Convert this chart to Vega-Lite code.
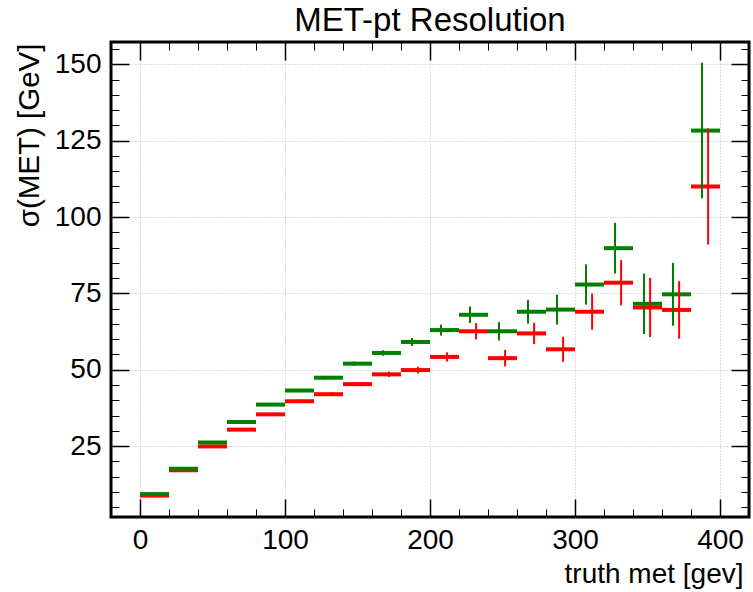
{
  "$schema": "https://vega.github.io/schema/vega-lite/v6.json",
  "width": 638,
  "height": 475,
  "autosize": "none",
  "padding": {"left": 111, "top": 42, "right": 4, "bottom": 75},
  "background": "white",
  "title": {"text": "MET-pt Resolution", "fontSize": 33, "font": "Liberation Sans", "fontWeight": "normal", "anchor": "middle", "frame": "group", "baseline": "alphabetic", "offset": 10, "dy": 33, "color": "black"},
  "config": {
    "view": {"stroke": "black", "strokeWidth": 3},
    "axis": {"domain": false, "labelFont": "Liberation Sans", "titleFont": "Liberation Sans", "labelColor": "black", "titleColor": "black", "tickColor": "black", "titleFontWeight": "normal"}
  },
  "data": {"values": [
    {"s": "B", "lo": 0, "hi": 20, "xc": 11.8, "v": 8.8, "elo": 8.5, "ehi": 9.1},
    {"s": "B", "lo": 20, "hi": 40, "xc": 31.8, "v": 17.1, "elo": 16.8, "ehi": 17.4},
    {"s": "B", "lo": 40, "hi": 60, "xc": 51.8, "v": 24.9, "elo": 24.5, "ehi": 25.3},
    {"s": "B", "lo": 60, "hi": 80, "xc": 71.8, "v": 30.4, "elo": 30.0, "ehi": 30.8},
    {"s": "B", "lo": 80, "hi": 100, "xc": 91.8, "v": 35.4, "elo": 34.9, "ehi": 35.9},
    {"s": "B", "lo": 100, "hi": 120, "xc": 111.8, "v": 39.7, "elo": 39.2, "ehi": 40.2},
    {"s": "B", "lo": 120, "hi": 140, "xc": 131.8, "v": 42.0, "elo": 41.4, "ehi": 42.6},
    {"s": "B", "lo": 140, "hi": 160, "xc": 151.8, "v": 45.3, "elo": 44.6, "ehi": 46.0},
    {"s": "B", "lo": 160, "hi": 180, "xc": 171.8, "v": 48.5, "elo": 47.6, "ehi": 49.4},
    {"s": "B", "lo": 180, "hi": 200, "xc": 191.8, "v": 49.9, "elo": 48.8, "ehi": 51.0},
    {"s": "B", "lo": 200, "hi": 220, "xc": 211.8, "v": 54.2, "elo": 52.7, "ehi": 55.7},
    {"s": "B", "lo": 220, "hi": 240, "xc": 231.8, "v": 62.6, "elo": 59.9, "ehi": 65.3},
    {"s": "B", "lo": 240, "hi": 260, "xc": 251.8, "v": 53.8, "elo": 51.1, "ehi": 56.5},
    {"s": "B", "lo": 260, "hi": 280, "xc": 271.8, "v": 61.9, "elo": 58.4, "ehi": 65.4},
    {"s": "B", "lo": 280, "hi": 300, "xc": 291.8, "v": 56.7, "elo": 52.6, "ehi": 60.8},
    {"s": "B", "lo": 300, "hi": 320, "xc": 311.8, "v": 69.0, "elo": 63.1, "ehi": 74.9},
    {"s": "B", "lo": 320, "hi": 340, "xc": 331.8, "v": 78.5, "elo": 71.1, "ehi": 85.9},
    {"s": "B", "lo": 340, "hi": 360, "xc": 351.8, "v": 70.4, "elo": 60.7, "ehi": 80.1},
    {"s": "B", "lo": 360, "hi": 380, "xc": 371.8, "v": 69.6, "elo": 60.2, "ehi": 79.0},
    {"s": "B", "lo": 380, "hi": 400, "xc": 391.8, "v": 110.0, "elo": 91.0, "ehi": 129.0},
    {"s": "A", "lo": 0, "hi": 20, "xc": 7.6, "v": 9.3, "elo": 9.0, "ehi": 9.6},
    {"s": "A", "lo": 20, "hi": 40, "xc": 27.6, "v": 17.6, "elo": 17.3, "ehi": 17.9},
    {"s": "A", "lo": 40, "hi": 60, "xc": 47.6, "v": 26.2, "elo": 25.8, "ehi": 26.6},
    {"s": "A", "lo": 60, "hi": 80, "xc": 67.6, "v": 32.9, "elo": 32.5, "ehi": 33.3},
    {"s": "A", "lo": 80, "hi": 100, "xc": 87.6, "v": 38.6, "elo": 38.1, "ehi": 39.1},
    {"s": "A", "lo": 100, "hi": 120, "xc": 107.6, "v": 43.2, "elo": 42.7, "ehi": 43.7},
    {"s": "A", "lo": 120, "hi": 140, "xc": 127.6, "v": 47.4, "elo": 46.8, "ehi": 48.0},
    {"s": "A", "lo": 140, "hi": 160, "xc": 147.6, "v": 52.0, "elo": 51.3, "ehi": 52.7},
    {"s": "A", "lo": 160, "hi": 180, "xc": 167.6, "v": 55.5, "elo": 54.6, "ehi": 56.4},
    {"s": "A", "lo": 180, "hi": 200, "xc": 187.6, "v": 59.1, "elo": 57.8, "ehi": 60.4},
    {"s": "A", "lo": 200, "hi": 220, "xc": 207.6, "v": 63.0, "elo": 61.2, "ehi": 64.8},
    {"s": "A", "lo": 220, "hi": 240, "xc": 227.6, "v": 68.0, "elo": 65.3, "ehi": 70.7},
    {"s": "A", "lo": 240, "hi": 260, "xc": 247.6, "v": 62.6, "elo": 59.6, "ehi": 65.6},
    {"s": "A", "lo": 260, "hi": 280, "xc": 267.6, "v": 69.0, "elo": 65.1, "ehi": 72.9},
    {"s": "A", "lo": 280, "hi": 300, "xc": 287.6, "v": 69.7, "elo": 64.8, "ehi": 74.6},
    {"s": "A", "lo": 300, "hi": 320, "xc": 307.6, "v": 77.9, "elo": 71.3, "ehi": 84.5},
    {"s": "A", "lo": 320, "hi": 340, "xc": 327.6, "v": 89.8, "elo": 81.5, "ehi": 98.1},
    {"s": "A", "lo": 340, "hi": 360, "xc": 347.6, "v": 71.6, "elo": 61.7, "ehi": 81.5},
    {"s": "A", "lo": 360, "hi": 380, "xc": 367.6, "v": 74.7, "elo": 64.4, "ehi": 85.0},
    {"s": "A", "lo": 380, "hi": 400, "xc": 387.6, "v": 128.3, "elo": 106.1, "ehi": 150.5}
  ]},
  "layer": [
    {
      "mark": {"type": "rule", "strokeWidth": 4},
      "encoding": {
        "x": {"field": "lo", "type": "quantitative", "scale": {"domain": [-20, 420], "nice": false, "zero": false},
          "axis": {"orient": "bottom", "values": [0, 100, 200, 300, 400], "tickSize": -18, "tickWidth": 1.5, "grid": true, "gridDash": [1, 2], "gridColor": "#bbbbbb", "gridWidth": 1, "labelFontSize": 28, "labelPadding": 27, "labelFlush": false, "labelOverlap": false, "title": "truth met [gev]", "titleFontSize": 28, "titleX": 632, "titleY": 65, "titleAlign": "right", "titleBaseline": "alphabetic", "titleAnchor": null}},
        "x2": {"field": "hi"},
        "y": {"field": "v", "type": "quantitative", "scale": {"domain": [1.8, 157.3], "nice": false, "zero": false},
          "axis": {"orient": "left", "values": [25, 50, 75, 100, 125, 150], "tickSize": -18, "tickWidth": 1.5, "grid": true, "gridDash": [1, 2], "gridColor": "#bbbbbb", "gridWidth": 1, "labelFontSize": 28, "labelPadding": 28, "labelFlush": false, "labelOverlap": false, "title": "σ(MET) [GeV]", "titleFontSize": 29.5, "titleAngle": 270, "titleX": -72.7, "titleY": 1, "titleAlign": "right", "titleBaseline": "alphabetic", "titleAnchor": null}},
        "color": {"field": "s", "type": "nominal", "scale": {"domain": ["A", "B"], "range": ["#008000", "#ff0000"]}, "legend": null}
      }
    },
    {
      "mark": {"type": "rule", "strokeWidth": 2},
      "encoding": {
        "x": {"field": "xc", "type": "quantitative",
          "axis": {"orient": "bottom", "values": [-20, 20, 40, 60, 80, 120, 140, 160, 180, 220, 240, 260, 280, 320, 340, 360, 380, 420], "tickSize": -8, "tickWidth": 1, "grid": false, "labels": false, "title": null}},
        "y": {"field": "elo", "type": "quantitative",
          "axis": {"orient": "left", "values": [5, 10, 15, 20, 30, 35, 40, 45, 55, 60, 65, 70, 80, 85, 90, 95, 105, 110, 115, 120, 130, 135, 140, 145, 155], "tickSize": -8, "tickWidth": 1, "grid": false, "labels": false, "title": null}},
        "y2": {"field": "ehi"},
        "color": {"field": "s", "type": "nominal", "legend": null}
      }
    },
    {
      "mark": {"type": "rule", "opacity": 0},
      "encoding": {
        "x": {"field": "xc", "type": "quantitative",
          "axis": {"orient": "top", "values": [0, 100, 200, 300, 400], "tickSize": -18, "tickWidth": 1.5, "grid": false, "labels": false, "title": null}},
        "y": {"field": "v", "type": "quantitative",
          "axis": {"orient": "right", "values": [25, 50, 75, 100, 125, 150], "tickSize": -18, "tickWidth": 1.5, "grid": false, "labels": false, "title": null}}
      }
    },
    {
      "mark": {"type": "rule", "opacity": 0},
      "encoding": {
        "x": {"field": "xc", "type": "quantitative",
          "axis": {"orient": "top", "values": [-20, 20, 40, 60, 80, 120, 140, 160, 180, 220, 240, 260, 280, 320, 340, 360, 380, 420], "tickSize": -8, "tickWidth": 1, "grid": false, "labels": false, "title": null}},
        "y": {"field": "v", "type": "quantitative",
          "axis": {"orient": "right", "values": [5, 10, 15, 20, 30, 35, 40, 45, 55, 60, 65, 70, 80, 85, 90, 95, 105, 110, 115, 120, 130, 135, 140, 145, 155], "tickSize": -8, "tickWidth": 1, "grid": false, "labels": false, "title": null}}
      }
    }
  ],
  "resolve": {"axis": {"x": "independent", "y": "independent"}}
}
